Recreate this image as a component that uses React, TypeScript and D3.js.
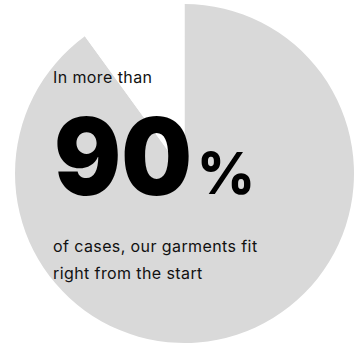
import React from "react";
import * as d3 from "d3";

const categories = ["fit", "other"];
const values = [90, 10];
const bigValue = "90";
const unit = "%";
const introText = "In more than";
const captionLines = ["of cases, our garments fit", "right from the start"];

const W = 360;
const H = 344;

export default function App() {
  const cx = 184.5;
  const cy = 173.5;
  const r = 169.5;
  const pie = d3.pie<number>().sort(null).value((d) => d)(values);
  const arc = d3.arc<d3.PieArcDatum<number>>().innerRadius(0).outerRadius(r);
  const colors = ["#d9d9d9", "#ffffff"];
  const font = "Inter, 'Noto Sans', sans-serif";
  return (
    <svg width={W} height={H} style={{ position: "absolute", left: 0, top: 0, background: "#fff" }}>
      <g transform={`translate(${cx},${cy})`}>
        {pie.map((p, i) => (
          <path key={categories[i]} d={arc(p) || ""} fill={colors[i]} />
        ))}
      </g>
      <text x={53} y={82.5} fontFamily={font} fontSize={16} letterSpacing={0.4} fill="#111">{introText}</text>
      <text x={54} y={194.5} fontFamily={font} fontWeight={900} fill="#000" fontSize={107}
        textLength={138} lengthAdjust="spacingAndGlyphs">
        {bigValue}
      </text>
      <text x={197} y={193.5} fontFamily={font} fontWeight={800} fill="#000" fontSize={58}
        textLength={58} lengthAdjust="spacingAndGlyphs">
        {unit}
      </text>
      {captionLines.map((t, i) => (
        <text key={i} x={53} y={252 + i * 27} fontFamily={font} fontSize={16} letterSpacing={0.4} fill="#111">{t}</text>
      ))}
    </svg>
  );
}
